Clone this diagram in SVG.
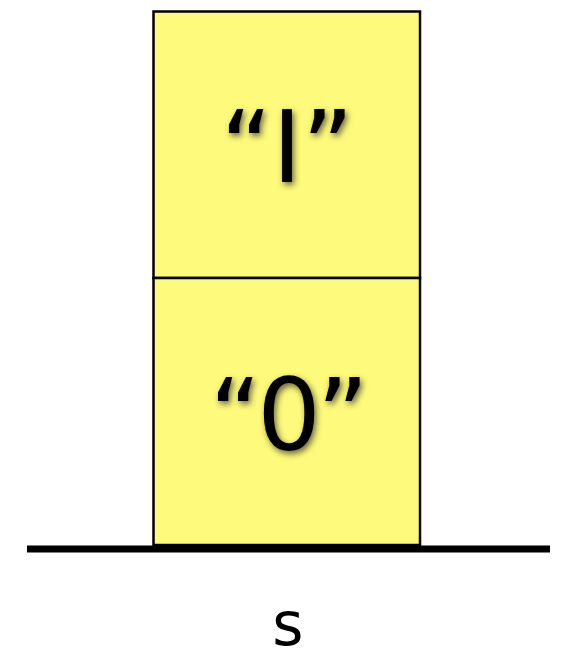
<svg xmlns="http://www.w3.org/2000/svg" width="566" height="660" viewBox="0 0 566 660">
<defs>
<style>
.box{fill:#fefa7b;stroke:#000;stroke-width:2.5}
.lbl{font-family:"DejaVu Sans",sans-serif;font-size:100px;fill:#000;text-anchor:middle;filter:url(#sh)}
.s{font-family:"DejaVu Sans",sans-serif;font-size:60px;fill:#000;text-anchor:middle}
</style>
<filter id="sh" x="-20%" y="-20%" width="140%" height="140%">
<feDropShadow dx="2" dy="3" stdDeviation="3" flood-color="#000" flood-opacity="0.6"/>
</filter>
</defs>
<g id="box1">
<rect class="box" x="153.5" y="11.5" width="266.5" height="266.5"/>
<text class="lbl" x="287" y="182">“I”</text>
</g>
<g id="box0">
<rect class="box" x="153.5" y="278" width="266.5" height="267"/>
<text class="lbl" x="287" y="450" letter-spacing="-4">“0”</text>
</g>
<g id="ground">
<line x1="27" y1="549" x2="550" y2="549" stroke="#000" stroke-width="7"/>
</g>
<g id="label-s">
<text class="s" x="288" y="645">s</text>
</g>
</svg>
